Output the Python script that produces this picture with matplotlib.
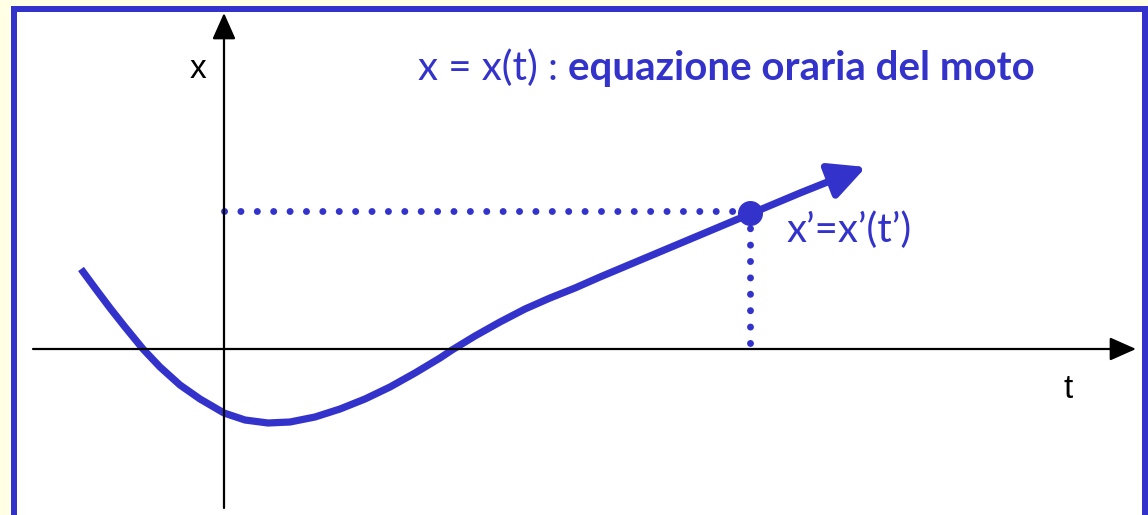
import matplotlib
matplotlib.use("Agg")
import matplotlib.pyplot as plt
from matplotlib.patches import Rectangle

# curve x(t) (origin at the axes crossing)
curve_t = [-1.43, -1.29, -1.14, -0.99, -0.81, -0.64, -0.44, -0.24, 0.0, 0.21,
           0.44, 0.66, 0.91, 1.16, 1.41, 1.66, 1.91, 2.16, 2.28, 2.51,
           2.76, 3.01, 3.26, 3.51, 3.76, 4.26, 4.76, 5.26, 5.76, 6.16]
curve_x = [0.80, 0.61, 0.41, 0.22, 0.0, -0.18, -0.36, -0.50, -0.64, -0.71,
           -0.74, -0.73, -0.68, -0.60, -0.50, -0.38, -0.24, -0.09, -0.01, 0.13,
           0.27, 0.40, 0.51, 0.61, 0.72, 0.93, 1.14, 1.35, 1.56, 1.72]
arrow_tip = (6.42, 1.82)

# the marked instant t' and position x'
t_prime = 5.26
x_prime = 1.36

title_normal = "x = x(t) : "
title_bold = "equazione oraria del moto"
point_label = "x\u2019=x\u2019(t\u2019)"

blue = "#3333CC"

fig = plt.figure(figsize=(11.48, 5.15), dpi=100)
fig.patch.set_facecolor("#FFFFE6")

# white panel with blue frame (top, left, right), kept behind the axes
frame = [
    ((17, 0), 1142 - 17, 515 - 12, "white"),
    ((11, 515 - 12), 1148 - 11, 6, blue),
    ((11, 0), 6, 515 - 6, blue),
    ((1142, 0), 6, 515 - 6, blue),
]
for (x0, y0), w, h, c in frame:
    fig.add_artist(Rectangle((x0 / 1148, y0 / 515), w / 1148, h / 515,
                             transform=fig.transFigure, facecolor=c,
                             edgecolor="none", zorder=-10))

ax = fig.add_axes([0, 0, 1, 1])
ax.set_xlim(-2.24, 9.24)
ax.set_ylim(-1.66, 3.49)
ax.axis("off")
ax.patch.set_alpha(0)

# axes with arrows
arrow_axis = dict(arrowstyle="-|>,head_length=0.9,head_width=0.4",
                  color="black", lw=1.6, mutation_scale=18,
                  shrinkA=0, shrinkB=0)
ax.annotate("", xy=(9.12, 0), xytext=(-1.91, 0), arrowprops=arrow_axis)
ax.annotate("", xy=(0, 3.36), xytext=(0, -1.59), arrowprops=arrow_axis)

# dotted guides
dots = dict(color=blue, lw=5, linestyle=(0, (0.01, 2.35)),
            dash_capstyle="round", solid_capstyle="round")
ax.plot([0, t_prime], [x_prime + 0.02, x_prime + 0.02], **dots)
ax.plot([t_prime, t_prime], [0.06, x_prime], **dots)

# curve
ax.plot(curve_t, curve_x, color=blue, lw=5.2, solid_capstyle="butt",
        solid_joinstyle="round")
ax.annotate("", xy=arrow_tip, xytext=(curve_t[-1], curve_x[-1]),
            arrowprops=dict(arrowstyle="-|>,head_length=1.1,head_width=0.55",
                            color=blue, lw=5.2, mutation_scale=20,
                            shrinkA=0, shrinkB=0))
ax.plot([t_prime], [x_prime], "o", color=blue, ms=17)

# labels
ax.text(-0.26, 2.80, "x", fontsize=24, family="Liberation Sans",
        ha="center", va="center")
ax.text(8.44, -0.40, "t", fontsize=24, family="Liberation Sans",
        ha="center", va="center")
ax.text(5.63, 1.19, point_label, fontsize=29, family="Lato", color=blue,
        ha="left", va="center")
t1 = ax.text(1.94, 2.69, title_normal, fontsize=29, family="Lato",
             color=blue, ha="left", va="baseline")
ax.annotate(title_bold, xy=(1, 2.69), xycoords=(t1, "data"), fontsize=29,
            family="Lato", fontweight="bold", color=blue, ha="left",
            va="baseline")

fig.savefig("out.png", dpi=100, facecolor=fig.get_facecolor())
